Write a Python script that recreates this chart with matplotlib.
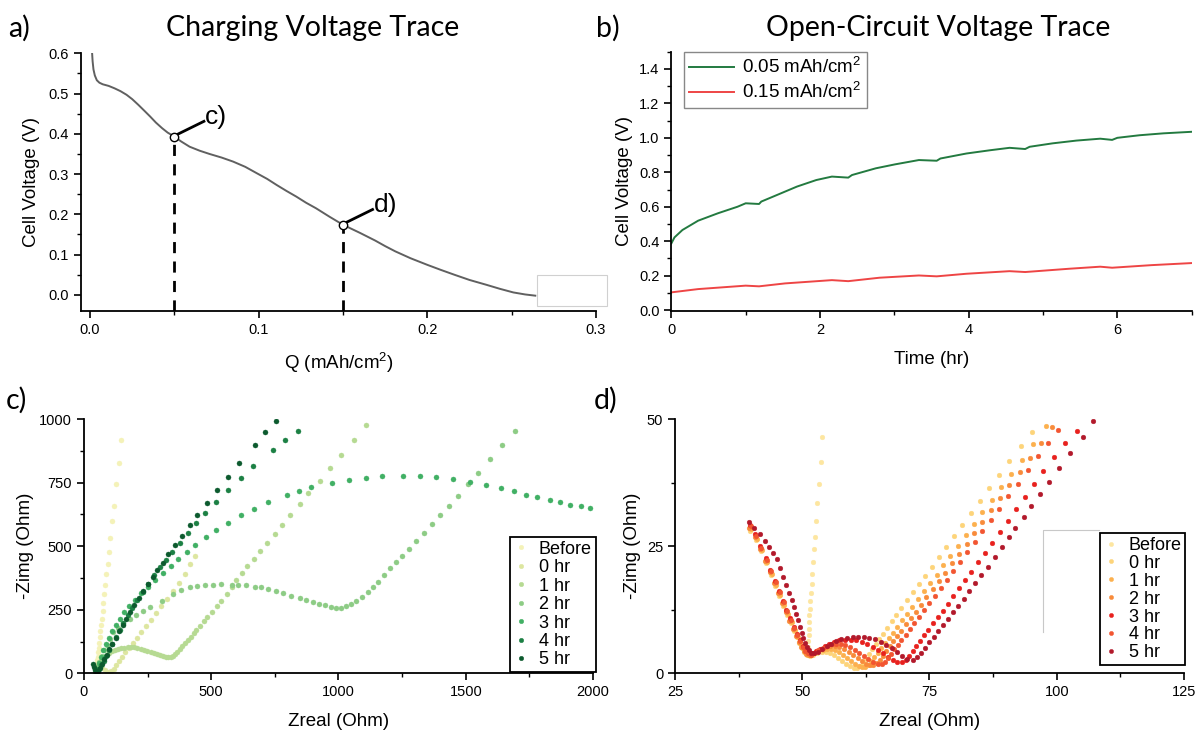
import matplotlib
matplotlib.use('Agg')
import matplotlib.pyplot as plt
from matplotlib.lines import Line2D
from matplotlib.patches import Rectangle
from matplotlib.ticker import MultipleLocator

plt.rcParams['font.family'] = ['Liberation Sans', 'DejaVu Sans']
plt.rcParams['mathtext.default'] = 'regular'

# ---- a) charging voltage trace ----
charge_q = [0.0012, 0.0015, 0.002, 0.0028, 0.004, 0.0055, 0.0075, 0.011, 0.0145, 0.018,
            0.0216, 0.025, 0.0286, 0.032, 0.0356, 0.039, 0.0427, 0.046, 0.05, 0.054,
            0.059, 0.065, 0.0708, 0.078, 0.0848, 0.092, 0.0989, 0.105, 0.1106, 0.1165,
            0.1223, 0.128, 0.134, 0.142, 0.15, 0.16, 0.169, 0.175, 0.181, 0.19,
            0.20, 0.208, 0.216, 0.225, 0.235, 0.243, 0.251, 0.258, 0.264]
charge_v = [0.600, 0.580, 0.560, 0.545, 0.533, 0.527, 0.523, 0.519, 0.513, 0.506,
            0.497, 0.486, 0.472, 0.458, 0.443, 0.428, 0.414, 0.403, 0.393, 0.381,
            0.368, 0.358, 0.350, 0.341, 0.331, 0.318, 0.302, 0.288, 0.273, 0.258,
            0.244, 0.229, 0.215, 0.194, 0.174, 0.154, 0.135, 0.121, 0.108, 0.091,
            0.0745, 0.062, 0.050, 0.037, 0.025, 0.015, 0.006, 0.001, -0.002]
mark_q = [0.05, 0.15]
mark_v = [0.393, 0.174]
mark_lbl = ['c)', 'd)']

# ---- b) open-circuit voltage trace ----
ocv_t_lo = [0, 0.042, 0.149, 0.36, 0.626, 0.89, 1.0, 1.18, 1.21, 1.42, 1.69, 1.95, 2.16, 2.38,
            2.43, 2.75, 3.01, 3.33, 3.57, 3.62, 3.97, 4.29, 4.55, 4.76, 4.82, 5.13, 5.45,
            5.77, 5.93, 6.0, 6.3, 6.62, 7.0]
ocv_v_lo = [0.387, 0.422, 0.465, 0.519, 0.562, 0.60, 0.62, 0.616, 0.63, 0.668, 0.717, 0.755,
            0.775, 0.769, 0.784, 0.823, 0.846, 0.871, 0.867, 0.88, 0.909, 0.928, 0.942, 0.935,
            0.948, 0.968, 0.984, 0.995, 0.988, 1.0, 1.015, 1.026, 1.035]
ocv_t_hi = [0, 0.36, 1.0, 1.18, 1.53, 2.16, 2.38, 2.8, 3.33, 3.57, 3.97, 4.55, 4.76, 5.35,
            5.77, 5.93, 6.46, 7.0]
ocv_v_hi = [0.103, 0.122, 0.142, 0.138, 0.155, 0.174, 0.168, 0.188, 0.201, 0.196, 0.211,
            0.226, 0.221, 0.240, 0.252, 0.246, 0.261, 0.273]

# ---- c) impedance after 0.05 mAh/cm2 (Zreal, -Zimg) ----
c_labels = ['Before', '0 hr', '1 hr', '2 hr', '3 hr', '4 hr', '5 hr']
c_colors = ['#f4f2b8', '#dde6a0', '#b6da92', '#8dcc85', '#41b064', '#1c8044', '#0c5a2e']
c_before = [(49, 6), (50, 12), (50, 20), (51, 30), (52, 40), (53, 52), (55, 66), (56, 82),
            (58, 100), (60, 120), (62, 142), (64, 165), (67, 190), (70, 215), (73, 245),
            (76, 275), (79, 312), (82, 347), (87, 389), (94, 430), (98, 477), (103, 531),
            (111, 597), (118, 659), (127, 746), (137, 826), (146, 918)]
c_0hr = [(42, 20), (48, 28), (55, 30), (63, 28), (72, 22), (82, 14), (92, 7), (100, 5),
         (108, 8), (116, 18), (126, 32), (138, 48), (150, 64), (163, 82), (177, 100),
         (192, 120), (208, 140), (225, 162), (243, 185), (262, 210), (282, 236), (303, 263),
         (325, 292), (348, 322), (372, 354), (395, 390), (416, 428), (437, 460)]
c_1hr = [(45, 3), (47, 12), (50, 21), (54, 30), (59, 39), (65, 48), (72, 57), (80, 65),
         (89, 73), (99, 80), (110, 86), (121, 91), (133, 95), (145, 99), (158, 101),
         (171, 103), (184, 103), (197, 102), (210, 100), (223, 97), (236, 93), (249, 89),
         (262, 85), (275, 80), (288, 75), (300, 71), (312, 67), (322, 65), (331, 64),
         (340, 66), (349, 70), (358, 77), (367, 85), (377, 95), (387, 106), (398, 118),
         (409, 131), (420, 144), (431, 158), (442, 172), (455, 188), (471, 204), (485, 221),
         (504, 240), (521, 263), (540, 286), (560, 312), (580, 338), (599, 365), (621, 393),
         (642, 422), (667, 451), (693, 482), (720, 514), (750, 548), (778, 584), (811, 622),
         (848, 665), (882, 709), (926, 757), (968, 807), (1011, 859), (1060, 916), (1109, 976)]
c_2hr = [(45, 5), (52, 25), (60, 45), (70, 68), (80, 90), (91, 112), (103, 135), (115, 162),
         (134, 180), (154, 195), (180, 215), (205, 230), (232, 246), (259, 260), (305, 286),
         (350, 312), (383, 328), (416, 340), (446, 342), (475, 348), (508, 349), (540, 352),
         (580, 349), (606, 348), (638, 348), (671, 341), (697, 338), (723, 332), (756, 322),
         (782, 315), (815, 306), (848, 297), (874, 289), (900, 282), (924, 273), (946, 267),
         (972, 260), (992, 256), (1011, 257), (1031, 264), (1051, 273), (1070, 286),
         (1094, 302), (1116, 319), (1135, 340), (1155, 358), (1180, 385), (1203, 414),
         (1227, 437), (1250, 461), (1277, 489), (1306, 519), (1334, 550), (1368, 587),
         (1397, 621), (1433, 659), (1468, 699), (1508, 744), (1549, 789), (1595, 844),
         (1643, 898), (1693, 953)]
c_3hr = [(48, 5), (52, 18), (58, 40), (66, 65), (75, 90), (85, 115), (97, 140), (110, 165),
         (124, 190), (140, 215), (158, 240), (178, 265), (200, 290), (225, 315), (250, 340),
         (280, 368), (310, 395), (340, 421), (369, 448), (403, 477), (438, 506), (479, 535),
         (517, 562), (565, 592), (616, 621), (668, 648), (722, 675), (798, 701), (845, 718),
         (891, 731), (975, 750), (1041, 761), (1109, 769), (1172, 774), (1253, 776),
         (1319, 774), (1385, 771), (1451, 763), (1515, 753), (1578, 742), (1638, 728),
         (1690, 715), (1737, 703), (1778, 693), (1830, 681), (1872, 672), (1911, 662),
         (1951, 656), (1990, 652)]
c_4hr = [(48, 3), (52, 8), (60, 18), (68, 32), (78, 50), (88, 70), (100, 92), (112, 116),
         (125, 142), (140, 170), (155, 198), (172, 228), (190, 258), (210, 290), (230, 320),
         (252, 352), (275, 385), (298, 417), (321, 446), (345, 478), (376, 514), (407, 552),
         (441, 591), (475, 629), (519, 675), (565, 720), (616, 767), (666, 816), (742, 877),
         (790, 916), (839, 953)]
c_5hr = [(37, 38), (40, 25), (45, 12), (50, 3), (55, 10), (62, 22), (70, 38), (79, 55),
         (89, 74), (100, 95), (112, 117), (124, 140), (138, 165), (152, 190), (167, 215),
         (182, 241), (198, 268), (215, 296), (232, 322), (250, 350), (270, 380), (288, 407),
         (309, 435), (331, 468), (357, 503), (385, 541), (416, 583), (445, 622), (482, 671),
         (521, 720), (564, 773), (610, 826), (671, 898), (713, 948), (756, 992)]

# ---- d) impedance after 0.15 mAh/cm2 ----
d_labels = ['Before', '0 hr', '1 hr', '2 hr', '3 hr', '4 hr', '5 hr']
d_colors = ['#fde6a0', '#fdd47a', '#fcb04e', '#f88b3b', '#e8211e', '#f25531', '#b2192b']
d_before = [(51.0, 4.0), (51.1, 5.2), (51.2, 6.4), (51.3, 7.6), (51.3, 8.8), (51.4, 10.1),
            (51.4, 11.4), (51.5, 12.7), (51.6, 14.2), (51.8, 15.8), (51.9, 17.6), (52.0, 19.6),
            (52.2, 21.8), (52.4, 24.4), (52.6, 26.9), (52.8, 30.0), (53.0, 33.5), (53.3, 37.3),
            (53.6, 41.6), (53.9, 46.4)]
d_0hr = [(39.8, 28.0), (40.9, 26.3), (41.9, 24.0), (42.9, 21.6), (43.8, 19.4), (44.7, 17.2),
         (45.5, 15.2), (46.3, 13.3), (47.0, 11.5), (47.7, 9.9), (48.3, 8.4), (48.9, 7.1),
         (49.4, 5.9), (49.9, 4.9), (50.4, 4.1), (50.9, 3.6), (51.5, 3.5), (52.2, 3.7),
         (53.0, 4.0), (53.8, 4.2), (54.6, 4.2), (55.4, 4.0), (56.2, 3.6), (57.0, 3.1),
         (57.8, 2.5), (58.6, 1.9), (59.4, 1.4), (60.1, 1.1), (60.7, 1.0), (61.3, 1.4),
         (61.9, 2.1), (62.5, 2.9), (63.1, 3.8), (63.7, 4.7), (64.4, 5.7), (65.1, 6.7),
         (65.9, 7.8), (66.7, 9.0), (67.6, 10.2), (68.5, 11.5), (69.5, 12.9), (70.6, 14.4),
         (71.7, 15.9), (72.9, 17.5), (74.1, 19.2), (75.4, 21.0), (76.8, 22.9), (78.3, 24.9),
         (79.8, 27.0), (81.4, 29.2), (83.1, 31.5), (84.9, 33.9), (86.7, 36.4), (88.7, 39.0),
         (90.7, 41.8), (92.9, 44.6), (95.2, 47.5)]
d_1hr = [(40.0, 28.3), (41.1, 26.5), (42.1, 24.2), (43.1, 21.8), (44.0, 19.6), (44.9, 17.4),
         (45.7, 15.4), (46.5, 13.5), (47.2, 11.7), (47.9, 10.1), (48.5, 8.6), (49.1, 7.2),
         (49.6, 6.0), (50.1, 5.0), (50.6, 4.2), (51.1, 3.7), (51.7, 3.6), (52.4, 3.9),
         (53.2, 4.3), (54.0, 4.6), (54.8, 4.8), (55.6, 4.8), (56.4, 4.6), (57.2, 4.2),
         (58.0, 3.7), (58.8, 3.1), (59.6, 2.5), (60.4, 1.9), (61.2, 1.5), (61.8, 1.3),
         (62.4, 1.3), (63.0, 1.7), (63.6, 2.4), (64.2, 3.2), (64.8, 4.0), (65.5, 4.9),
         (66.2, 5.9), (67.0, 6.9), (67.8, 8.0), (68.7, 9.2), (69.6, 10.4), (70.6, 11.7),
         (71.6, 13.1), (72.7, 14.6), (73.9, 16.1), (75.1, 17.7), (76.4, 19.4), (77.7, 21.2),
         (79.1, 23.1), (80.6, 25.1), (82.1, 27.2), (83.7, 29.4), (85.4, 31.7), (87.2, 34.1),
         (89.0, 36.6), (91.0, 39.2), (93.1, 42.0), (95.3, 45.0), (97.9, 48.7)]
d_2hr = [(39.6, 28.6), (40.7, 26.8), (41.7, 24.5), (42.7, 22.1), (43.6, 19.9), (44.5, 17.7),
         (45.3, 15.7), (46.1, 13.8), (46.8, 12.0), (47.5, 10.3), (48.1, 8.8), (48.7, 7.4),
         (49.3, 6.2), (49.8, 5.1), (50.3, 4.3), (50.8, 3.8), (51.4, 3.6), (52.1, 3.9),
         (52.9, 4.4), (53.7, 4.8), (54.6, 5.1), (55.5, 5.3), (56.4, 5.3), (57.3, 5.1),
         (58.2, 4.7), (59.1, 4.2), (60.0, 3.6), (60.9, 3.0), (61.8, 2.4), (62.6, 1.9),
         (63.3, 1.6), (64.0, 1.6), (64.6, 2.0), (65.2, 2.7), (65.8, 3.5), (66.5, 4.4),
         (67.2, 5.3), (67.9, 6.3), (68.7, 7.3), (69.5, 8.4), (70.4, 9.6), (71.3, 10.8),
         (72.3, 12.1), (73.3, 13.5), (74.4, 15.0), (75.6, 16.5), (76.8, 18.1), (78.1, 19.8),
         (79.4, 21.6), (80.8, 23.5), (82.3, 25.5), (83.8, 27.6), (85.4, 29.8), (87.1, 32.1),
         (88.9, 34.5), (90.7, 37.0), (92.7, 39.6), (94.7, 42.4), (96.9, 45.3), (99.1, 48.5)]
d_3hr = [(39.7, 29.2), (40.8, 27.3), (41.8, 25.0), (42.8, 22.6), (43.7, 20.4), (44.6, 18.2),
         (45.4, 16.2), (46.2, 14.3), (46.9, 12.5), (47.6, 10.8), (48.3, 9.2), (48.9, 7.8),
         (49.5, 6.5), (50.1, 5.4), (50.7, 4.5), (51.3, 4.0), (51.9, 3.9), (52.7, 4.3),
         (53.5, 4.8), (54.4, 5.3), (55.3, 5.8), (56.3, 6.2), (57.3, 6.5), (58.4, 6.6),
         (59.5, 6.6), (60.6, 6.5), (61.7, 6.2), (62.8, 5.8), (63.9, 5.2), (64.9, 4.6),
         (65.9, 3.9), (66.9, 3.2), (67.8, 2.6), (68.7, 2.2), (69.6, 2.2), (70.3, 2.7),
         (71.0, 3.5), (71.7, 4.4), (72.4, 5.4), (73.2, 6.4), (74.0, 7.5), (74.8, 8.6),
         (75.7, 9.8), (76.6, 11.0), (77.6, 12.3), (78.6, 13.7), (79.7, 15.2), (80.8, 16.7),
         (82.0, 18.3), (83.2, 20.0), (84.5, 21.8), (85.9, 23.7), (87.3, 25.7), (88.8, 27.8),
         (90.4, 30.0), (92.0, 32.3), (93.7, 34.7), (95.5, 37.2), (97.4, 39.8), (99.4, 42.5),
         (101.6, 45.2), (103.9, 47.6)]
d_4hr = [(39.9, 28.9), (41.0, 27.0), (42.0, 24.7), (43.0, 22.3), (43.9, 20.1), (44.8, 17.9),
         (45.6, 15.9), (46.4, 14.0), (47.1, 12.2), (47.8, 10.5), (48.4, 9.0), (49.0, 7.6),
         (49.6, 6.3), (50.1, 5.2), (50.6, 4.4), (51.1, 3.9), (51.7, 3.7), (52.4, 4.0),
         (53.2, 4.5), (54.0, 5.0), (54.9, 5.4), (55.8, 5.7), (56.7, 5.8), (57.6, 5.8),
         (58.5, 5.5), (59.4, 5.1), (60.3, 4.6), (61.2, 4.0), (62.1, 3.4), (63.0, 2.8),
         (63.9, 2.3), (64.8, 1.9), (65.6, 1.9), (66.2, 2.3), (66.8, 3.0), (67.4, 3.8),
         (68.1, 4.7), (68.8, 5.6), (69.5, 6.6), (70.3, 7.6), (71.1, 8.7), (72.0, 9.9),
         (72.9, 11.1), (73.9, 12.4), (74.9, 13.8), (76.0, 15.3), (77.2, 16.8), (78.4, 18.4),
         (79.7, 20.1), (81.0, 21.9), (82.4, 23.8), (83.9, 25.8), (85.4, 27.9), (87.0, 30.1),
         (88.7, 32.4), (90.5, 34.8), (92.3, 37.3), (94.3, 39.9), (96.3, 42.7), (98.2, 45.3),
         (100.2, 47.9)]
d_5hr = [(39.6, 29.7), (40.6, 28.5), (41.7, 27.3), (42.6, 26.0), (43.5, 24.8), (44.3, 23.6),
         (45.1, 22.5), (45.7, 20.8), (46.3, 19.0), (46.9, 17.3), (47.4, 15.8), (47.9, 14.4),
         (48.4, 13.1), (48.8, 11.7), (49.2, 10.4), (49.5, 9.2), (49.9, 8.0), (50.2, 7.0),
         (50.5, 6.0), (50.9, 5.2), (51.3, 4.5), (51.8, 4.0), (52.4, 3.9), (53.1, 4.2),
         (53.9, 4.7), (54.8, 5.3), (55.7, 5.8), (56.7, 6.3), (57.7, 6.7), (58.8, 7.0),
         (59.9, 7.2), (61.0, 7.2), (62.1, 7.2), (63.2, 7.0), (64.3, 6.7), (65.4, 6.2),
         (66.5, 5.6), (67.6, 4.9), (68.6, 4.1), (69.6, 3.4), (70.6, 2.9), (71.7, 2.7),
         (72.5, 3.2), (73.3, 4.0), (74.1, 5.0), (74.9, 6.1), (75.8, 7.2), (76.7, 8.3),
         (77.6, 9.5), (78.6, 10.7), (79.6, 12.0), (80.6, 13.3), (81.7, 14.7), (82.8, 16.2),
         (84.0, 17.7), (85.2, 19.3), (86.5, 21.0), (87.8, 22.8), (89.2, 24.8), (90.6, 26.9),
         (91.9, 28.6), (93.5, 30.8), (95.0, 32.9), (96.8, 35.2), (98.5, 37.6), (100.5, 40.3),
         (102.7, 43.3), (105.1, 46.5), (107.2, 49.6)]

c_series = [c_before, c_0hr, c_1hr, c_2hr, c_3hr, c_4hr, c_5hr]
d_series = [d_before, d_0hr, d_1hr, d_2hr, d_3hr, d_4hr, d_5hr]

LBL = 13.5
TCK = 10.5
HEAD = 'Lato'


def style(ax):
    for s in ['top', 'right']:
        ax.spines[s].set_visible(False)
    for s in ['left', 'bottom']:
        ax.spines[s].set_linewidth(1.3)
    ax.tick_params(which='major', direction='out', length=5, width=1.2, labelsize=TCK)
    ax.tick_params(which='minor', direction='out', length=3, width=1.0)


fig = plt.figure(figsize=(11.98, 7.31), dpi=100)

ax_a = fig.add_axes([0.0676, 0.5746, 0.4299, 0.3525])
ax_b = fig.add_axes([0.5604, 0.5746, 0.4343, 0.3547])
ax_c = fig.add_axes([0.0701, 0.0789, 0.4249, 0.3479])
ax_d = fig.add_axes([0.5634, 0.0789, 0.4249, 0.3479])

# a)
ax_a.plot(charge_q, charge_v, color='#606060', lw=1.4, zorder=2)
for q, v, lbl in zip(mark_q, mark_v, mark_lbl):
    ax_a.plot([q, q], [-0.04, v], color='k', lw=2, dashes=(4, 3), zorder=3)
    ax_a.plot([q + 0.001, q + 0.0175], [v + 0.004, v + 0.038], color='k', lw=2, zorder=3)
    ax_a.plot(q, v, 'o', mfc='white', mec='k', ms=6, mew=1, zorder=4)
    ax_a.text(q + 0.018, v + 0.05, lbl, fontsize=19, va='center', ha='left')
ax_a.set_xlim(-0.0054, 0.3)
ax_a.set_ylim(-0.04, 0.6)
ax_a.xaxis.set_major_locator(MultipleLocator(0.1))
ax_a.xaxis.set_minor_locator(MultipleLocator(0.05))
ax_a.yaxis.set_major_locator(MultipleLocator(0.1))
ax_a.yaxis.set_minor_locator(MultipleLocator(0.05))
ax_a.xaxis.set_major_formatter(plt.FormatStrFormatter('%.1f'))
ax_a.yaxis.set_major_formatter(plt.FormatStrFormatter('%.1f'))
ax_a.set_xlabel('Q (mAh/cm$^2$)', fontsize=LBL, labelpad=10)
ax_a.set_ylabel('Cell Voltage (V)', fontsize=LBL, labelpad=6)
style(ax_a)

# b)
ax_b.plot(ocv_t_lo, ocv_v_lo, color='#237a40', lw=1.4, label='0.05 mAh/cm$^2$')
ax_b.plot(ocv_t_hi, ocv_v_hi, color='#ee4545', lw=1.4, label='0.15 mAh/cm$^2$')
ax_b.set_xlim(0, 7)
ax_b.set_ylim(-0.005, 1.5)
ax_b.xaxis.set_major_locator(MultipleLocator(2))
ax_b.xaxis.set_minor_locator(MultipleLocator(1))
ax_b.yaxis.set_major_locator(MultipleLocator(0.2))
ax_b.yaxis.set_minor_locator(MultipleLocator(0.1))
ax_b.yaxis.set_major_formatter(plt.FormatStrFormatter('%.1f'))
ax_b.set_xlabel('Time (hr)', fontsize=LBL, labelpad=10)
ax_b.set_ylabel('Cell Voltage (V)', fontsize=LBL, labelpad=4)
leg = ax_b.legend(loc='upper left', bbox_to_anchor=(0.024, 1.0), borderaxespad=0,
                  fontsize=LBL, handlelength=2.4, fancybox=False, framealpha=1,
                  edgecolor='#888888', borderpad=0.3, labelspacing=0.25, handletextpad=0.4)
leg.get_frame().set_linewidth(1.0)
style(ax_b)

# c)
for pts, col, lbl in zip(c_series, c_colors, c_labels):
    xs = [p[0] for p in pts]
    ys = [p[1] for p in pts]
    ax_c.plot(xs, ys, 'o', ls='none', ms=3.6, color=col, mec=col, mew=0.3, label=lbl)
ax_c.set_xlim(0, 2000)
ax_c.set_ylim(0, 1000)
ax_c.xaxis.set_major_locator(MultipleLocator(500))
ax_c.xaxis.set_minor_locator(MultipleLocator(250))
ax_c.yaxis.set_major_locator(MultipleLocator(250))
ax_c.yaxis.set_minor_locator(MultipleLocator(125))
ax_c.set_xlabel('Zreal (Ohm)', fontsize=LBL, labelpad=10)
ax_c.set_ylabel('-Zimg (Ohm)', fontsize=LBL, labelpad=4)
leg = ax_c.legend(loc='lower left', bbox_to_anchor=(0.837, 0.005), borderaxespad=0,
                  fontsize=13, handlelength=0.8, fancybox=False, framealpha=1,
                  edgecolor='k', borderpad=0.2, labelspacing=0.08, handletextpad=0.6,
                  markerscale=0.9)
leg.get_frame().set_linewidth(1.3)
style(ax_c)

# d)
for pts, col, lbl in zip(d_series, d_colors, d_labels):
    xs = [p[0] for p in pts]
    ys = [p[1] for p in pts]
    ax_d.plot(xs, ys, 'o', ls='none', ms=3.4, color=col, mec=col, mew=0.3, label=lbl)
ax_d.set_xlim(25, 125)
ax_d.set_ylim(0, 50)
ax_d.xaxis.set_major_locator(MultipleLocator(25))
ax_d.xaxis.set_minor_locator(MultipleLocator(12.5))
ax_d.yaxis.set_major_locator(MultipleLocator(25))
ax_d.yaxis.set_minor_locator(MultipleLocator(12.5))
ax_d.set_xlabel('Zreal (Ohm)', fontsize=LBL, labelpad=10)
ax_d.set_ylabel('-Zimg (Ohm)', fontsize=LBL, labelpad=4)
leg = ax_d.legend(loc='lower left', bbox_to_anchor=(0.835, 0.033), borderaxespad=0,
                  fontsize=13, handlelength=0.8, fancybox=False, framealpha=1,
                  edgecolor='k', borderpad=0.2, labelspacing=0.05, handletextpad=0.6,
                  markerscale=0.9)
leg.get_frame().set_linewidth(1.3)
style(ax_d)

# titles and panel letters
W, H = 1198, 731
fig.text(313 / W, 1 - 28 / H, 'Charging Voltage Trace', fontsize=20.5, family=HEAD,
         ha='center', va='center')
fig.text(938 / W, 1 - 28 / H, 'Open-Circuit Voltage Trace', fontsize=20.5, family=HEAD,
         ha='center', va='center')
for lbl, x, y in [('a)', 8, 28), ('b)', 596, 28), ('c)', 6, 400), ('d)', 594, 400)]:
    fig.text(x / W, 1 - y / H, lbl, fontsize=20.5, family=HEAD, ha='left', va='center')

# faint leftover boxes seen in the original export
fig.add_artist(Rectangle((537 / W, 1 - 306 / H), 70 / W, 31 / H, transform=fig.transFigure,
                         facecolor='white', edgecolor='#d0d0d0', lw=0.8, zorder=5))
fig.add_artist(Line2D([1042.7 / W, 1042.7 / W, 1099 / W], [1 - 631.7 / H, 1 - 530 / H, 1 - 530 / H],
                      transform=fig.transFigure, color='#c8c8c8', lw=0.8))

fig.savefig('out.png', dpi=100)
